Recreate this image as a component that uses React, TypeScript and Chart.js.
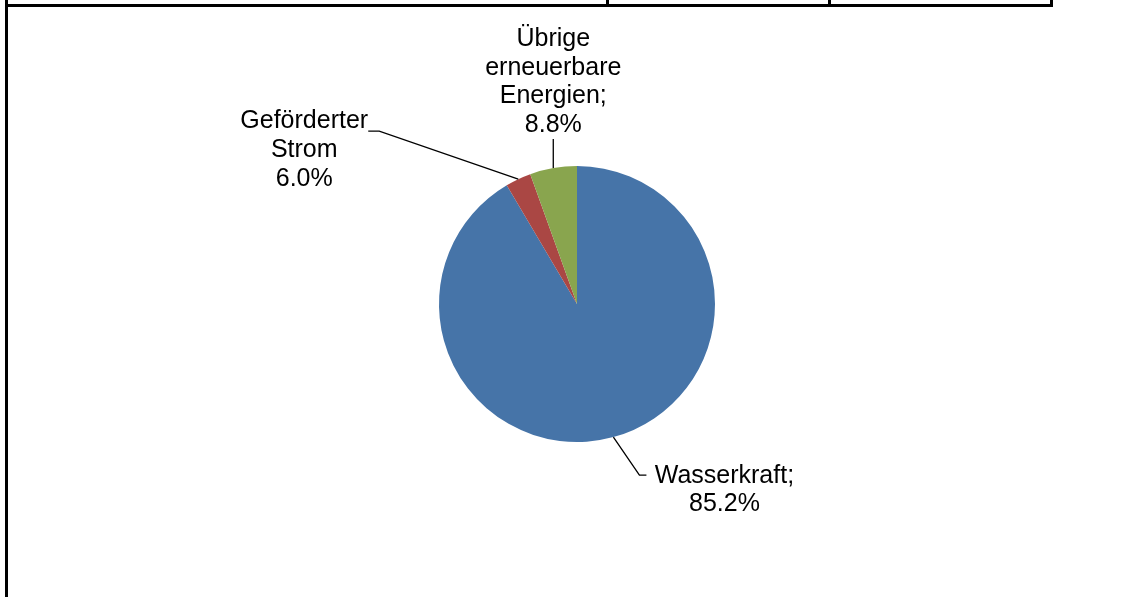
import React, { useEffect, useRef } from "react";
import { Chart, registerables } from "chart.js";

Chart.register(...registerables);

// Categories (order: clockwise from 12 o'clock)
const categories = ["Wasserkraft", "Geförderter Strom", "Übrige erneuerbare Energien"];
// Slice sizes as they appear in the picture (share of the circle, %)
const sliceValues = [91.5, 3.0, 5.5];
// Label texts as printed in the picture
const labelLines = [
  ["Wasserkraft;", "85.2%"],
  ["Geförderter", "Strom", "6.0%"],
  ["Übrige", "erneuerbare", "Energien;", "8.8%"],
];
const sliceColors = ["#4674A8", "#AA4744", "#89A54E"];

// leader geometry relative to slice anchor (mid-angle point on the rim)
const leaderCfg = [
  { elbow: [26, 38], end: [33, 38], textX: 111, firstBaseline: 46.2, lineH: 27.7 },
  { elbow: [-139, -48], end: [-150, -48], textX: -214, firstBaseline: -51, lineH: 29 },
  { elbow: [0, -29], end: [0, -29], textX: 0, firstBaseline: -122, lineH: 28.5 },
];

const labelPlugin = {
  id: "leaderLabels",
  beforeDraw(chart: any) {
    const ctx = chart.ctx;
    ctx.save();
    ctx.fillStyle = "#000";
    ctx.fillRect(5, 4, 1048, 3);
    ctx.fillRect(5, 0, 3, chart.height);
    ctx.fillRect(606, 0, 3, 7);
    ctx.fillRect(828, 0, 3, 7);
    ctx.fillRect(1050, 0, 3, 7);
    ctx.restore();
  },
  afterDraw(chart: any) {
    const ctx = chart.ctx;
    const meta = chart.getDatasetMeta(0);
    ctx.save();
    ctx.font = "25px 'Liberation Sans', Arial, sans-serif";
    ctx.fillStyle = "#000";
    ctx.strokeStyle = "#000";
    ctx.lineWidth = 1.3;
    ctx.textAlign = "center";
    ctx.textBaseline = "alphabetic";
    meta.data.forEach((arc: any, i: number) => {
      const { x, y, startAngle, endAngle, outerRadius } = arc.getProps(
        ["x", "y", "startAngle", "endAngle", "outerRadius"],
        true
      );
      const mid = (startAngle + endAngle) / 2;
      const ax = x + Math.cos(mid) * outerRadius;
      const ay = y + Math.sin(mid) * outerRadius;
      const c = leaderCfg[i];
      ctx.beginPath();
      ctx.moveTo(ax, ay);
      ctx.lineTo(ax + c.elbow[0], ay + c.elbow[1]);
      ctx.lineTo(ax + c.end[0], ay + c.end[1]);
      ctx.stroke();
      labelLines[i].forEach((line, k) => {
        ctx.fillText(line, ax + c.textX, ay + c.firstBaseline + k * c.lineH);
      });
    });
    ctx.restore();
  },
};

export default function App() {
  const ref = useRef<HTMLCanvasElement>(null);
  useEffect(() => {
    if (!ref.current) return;
    const chart = new Chart(ref.current, {
      type: "pie",
      data: {
        labels: categories,
        datasets: [
          {
            data: sliceValues,
            backgroundColor: sliceColors,
            borderWidth: 0,
          },
        ],
      },
      options: {
        responsive: false,
        animation: false,
        devicePixelRatio: 1,
        layout: { padding: { top: 166, bottom: 155, left: 200, right: 193 } },
        plugins: {
          legend: { display: false },
          tooltip: { enabled: false },
        },
      },
      plugins: [labelPlugin],
    });
    return () => chart.destroy();
  }, []);
  return (
    <div style={{ position: "absolute", left: 0, top: 0, width: 1147, height: 597, background: "#fff" }}>
      <canvas ref={ref} width={1147} height={597} style={{ display: "block", width: 1147, height: 597 }} />
    </div>
  );
}
